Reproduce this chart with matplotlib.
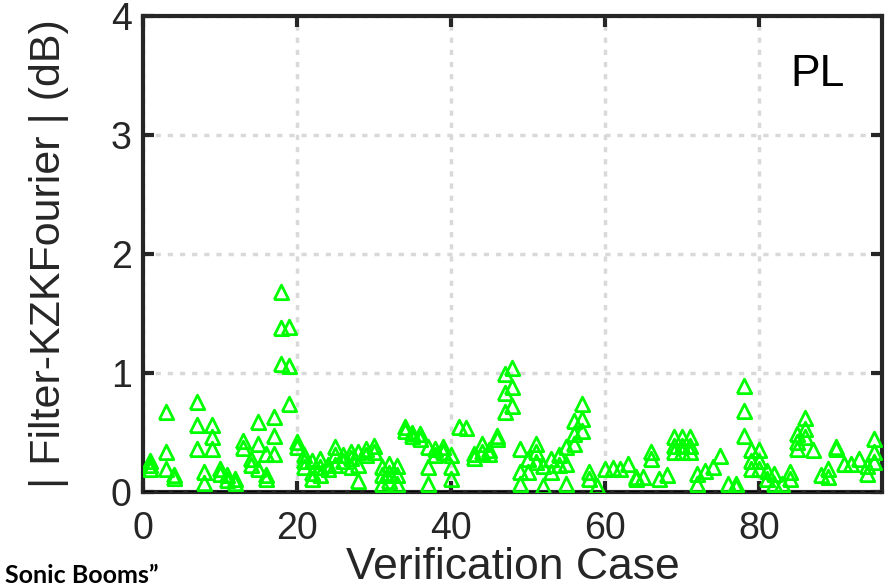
import matplotlib
matplotlib.use("Agg")
import matplotlib.pyplot as plt

# PL difference per verification case (several values per case)
cases = [1, 1, 1, 3, 3, 3, 4, 4, 7, 7, 7, 8, 8, 9, 9, 9, 10, 10, 11, 11, 12, 12,
         13, 13, 14, 14, 15, 15, 15, 16, 16, 16, 17, 17, 17, 18, 18, 18, 19, 19, 19,
         20, 20, 21, 21, 21, 22, 22, 22, 23, 23, 23, 24, 24, 25, 25, 25, 26, 26,
         27, 27, 27, 28, 28, 28, 29, 29, 30, 30, 31, 31, 31, 32, 32, 32, 33, 33, 33,
         34, 34, 35, 35, 36, 36, 37, 37, 37, 38, 38, 39, 39, 40, 40, 40, 41, 42,
         43, 43, 44, 44, 45, 45, 46, 46, 47, 47, 47, 48, 48, 48, 49, 49, 49, 50, 50,
         51, 51, 51, 52, 52, 53, 53, 54, 54, 55, 55, 55, 56, 56, 56, 57, 57, 57,
         58, 58, 59, 60, 61, 62, 63, 64, 64, 65, 66, 66, 67, 68, 69, 69, 69,
         70, 70, 70, 71, 71, 71, 72, 72, 73, 74, 75, 76, 77, 77, 78, 78, 78,
         79, 79, 79, 80, 80, 80, 81, 81, 82, 82, 83, 84, 84, 85, 85, 85, 86, 86, 86,
         87, 88, 89, 89, 90, 90, 91, 92, 93, 94, 94, 95, 95, 95]
pl_diff = [0.25, 0.22, 0.18, 0.66, 0.33, 0.18, 0.13, 0.11, 0.75, 0.55, 0.35, 0.16, 0.07,
           0.55, 0.45, 0.35, 0.18, 0.14, 0.13, 0.09, 0.10, 0.07,
           0.42, 0.36, 0.27, 0.22, 0.58, 0.39, 0.18, 0.31, 0.13, 0.10, 0.62, 0.46, 0.31,
           1.67, 1.37, 1.07, 1.38, 1.05, 0.73,
           0.41, 0.37, 0.30, 0.25, 0.20, 0.25, 0.15, 0.10, 0.27, 0.20, 0.13, 0.22, 0.18,
           0.37, 0.30, 0.22, 0.30, 0.25,
           0.33, 0.28, 0.20, 0.33, 0.22, 0.08, 0.35, 0.30, 0.38, 0.33, 0.20, 0.13, 0.06,
           0.23, 0.15, 0.08, 0.21, 0.13, 0.06,
           0.54, 0.50, 0.49, 0.46, 0.48, 0.44, 0.37, 0.20, 0.06, 0.35, 0.30, 0.37, 0.33,
           0.30, 0.20, 0.10, 0.54, 0.53,
           0.31, 0.28, 0.39, 0.33, 0.34, 0.31, 0.46, 0.44, 0.98, 0.82, 0.66, 1.03, 0.87, 0.71,
           0.35, 0.16, 0.06, 0.27, 0.16,
           0.39, 0.33, 0.24, 0.21, 0.04, 0.27, 0.16, 0.30, 0.22, 0.37, 0.23, 0.06,
           0.59, 0.48, 0.39, 0.73, 0.60, 0.50,
           0.16, 0.10, 0.04, 0.18, 0.19, 0.18, 0.23, 0.12, 0.10, 0.12, 0.33, 0.27, 0.10, 0.13,
           0.45, 0.38, 0.33,
           0.45, 0.38, 0.33, 0.45, 0.38, 0.33, 0.14, 0.06, 0.17, 0.20, 0.29, 0.06, 0.06, 0.03,
           0.88, 0.67, 0.46,
           0.34, 0.25, 0.18, 0.34, 0.25, 0.18, 0.17, 0.10, 0.14, 0.06, 0.06, 0.16, 0.10,
           0.48, 0.41, 0.35, 0.61, 0.52, 0.45,
           0.34, 0.13, 0.18, 0.12, 0.37, 0.35, 0.23, 0.23, 0.27, 0.21, 0.14, 0.44, 0.33, 0.24]

xticks = [0, 20, 40, 60, 80]
yticks = [0, 1, 2, 3, 4]

plt.rcParams['font.family'] = ['Liberation Sans', 'DejaVu Sans']

fig = plt.figure(figsize=(8.92, 5.87), dpi=100)
ax = fig.add_axes([0.160, 0.162, 0.829, 0.811])

ax.grid(True, color='#d9d9d9', linestyle=(0, (1.5, 2)), linewidth=2.5)
ax.set_axisbelow(True)

tri = [(-1, -0.85), (1, -0.85), (0, 1.15), (-1, -0.85)]
ax.axhline(0, color='k', linestyle='--', linewidth=2, zorder=3)
ax.plot(cases, pl_diff, linestyle='none', marker=tri, markersize=12,
        markerfacecolor='none', markeredgecolor='#00ff00', markeredgewidth=2, zorder=4)

ax.set_xlim(0, 96)
ax.set_ylim(0, 4)
ax.set_xticks(xticks)
ax.set_yticks(yticks)

for s in ax.spines.values():
    s.set_linewidth(3)
    s.set_color('#262626')
ax.tick_params(direction='in', top=True, right=True, length=8, width=3,
               color='#262626', labelsize=27, labelcolor='#262626')
ax.tick_params(axis='x', pad=14)
ax.tick_params(axis='y', pad=8)

ax.set_xlabel("Verification Case", fontsize=32, color='#262626', labelpad=0)
ax.set_ylabel("| Filter-KZKFourier | (dB)", fontsize=31, color='#262626', labelpad=30)

ax.text(0.912, 0.876, "PL", transform=ax.transAxes, fontsize=32,
        ha='center', va='center', color='k')

fig.text(0.006, 0.0, "Sonic Booms\u201d", fontsize=18, fontweight='bold',
         family=['Lato', 'DejaVu Sans'], ha='left', va='bottom')

fig.savefig('out.png', dpi=100)
